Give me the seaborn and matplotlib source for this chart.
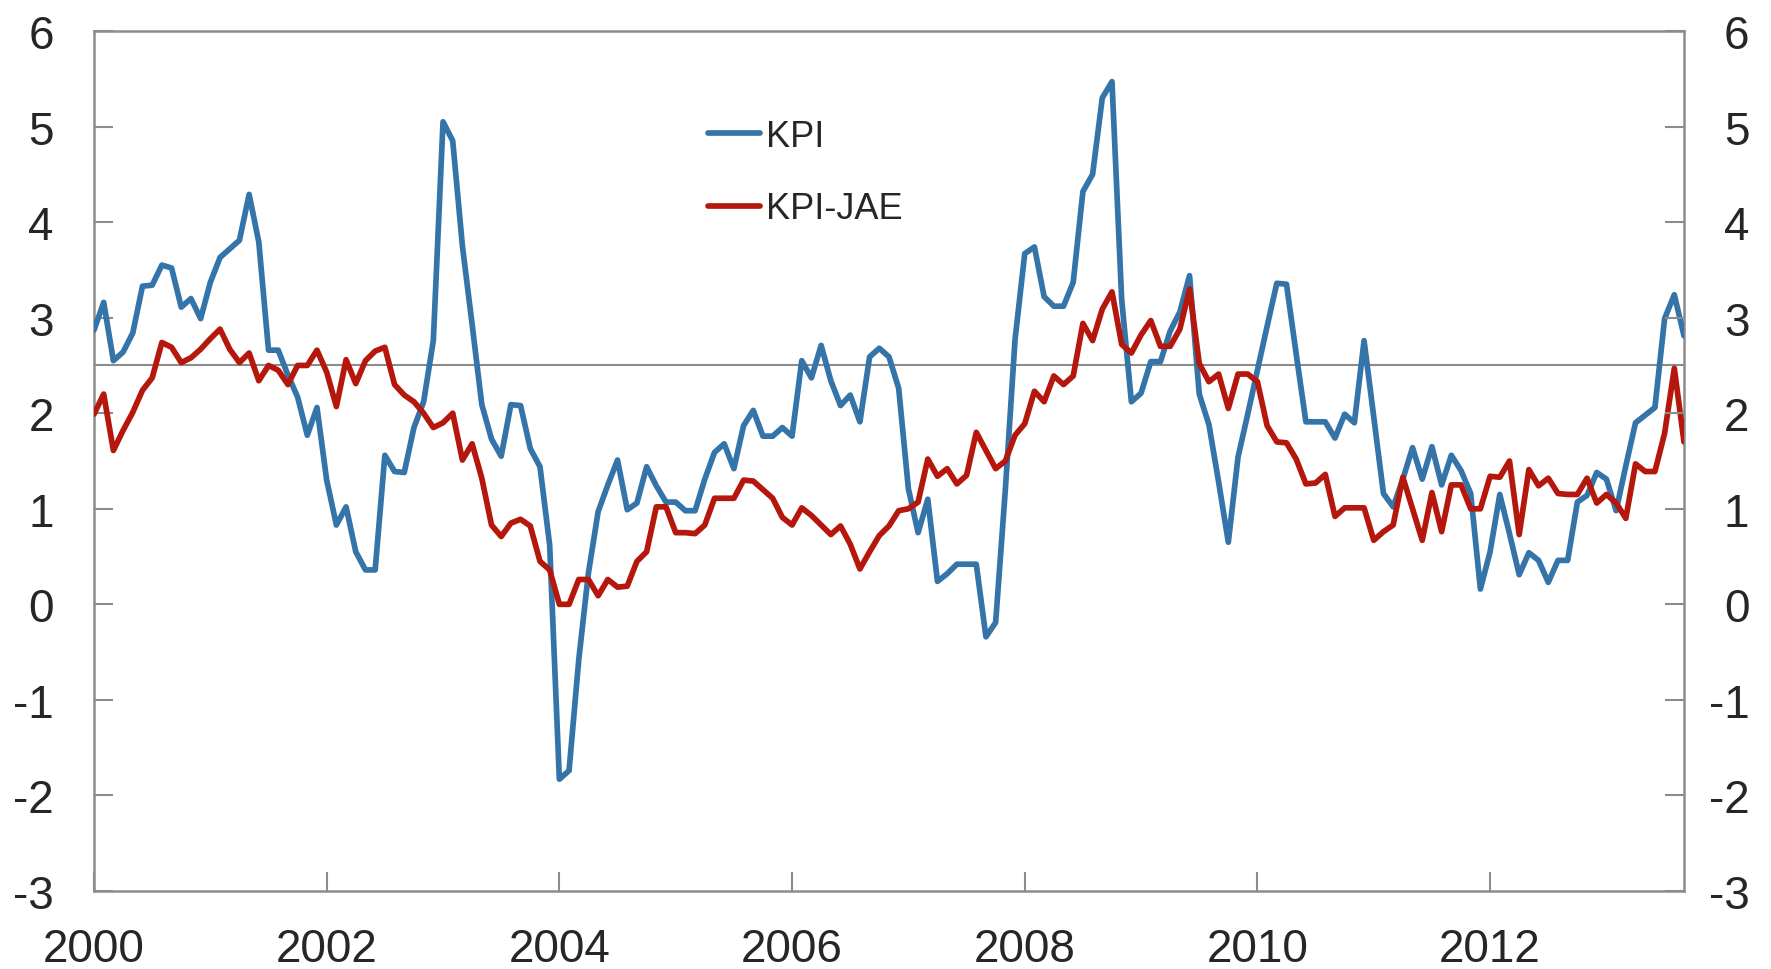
import numpy as np
import pandas as pd
import matplotlib
matplotlib.use("Agg")
import matplotlib.pyplot as plt
import seaborn as sns

# Monthly data, Jan 2000 - Sep 2013
kpi = [2.87, 3.16, 2.55, 2.64, 2.84, 3.33, 3.34, 3.55, 3.52, 3.11, 3.20, 2.99,
       3.37, 3.63, 3.72, 3.81, 4.29, 3.79, 2.66, 2.66, 2.40, 2.17, 1.77, 2.06,
       1.30, 0.83, 1.02, 0.55, 0.36, 0.36, 1.56, 1.39, 1.38, 1.85, 2.12, 2.76,
       5.05, 4.85, 3.75, 2.93, 2.09, 1.73, 1.55, 2.09, 2.08, 1.63, 1.44, 0.62,
       -1.83, -1.74, -0.58, 0.33, 0.97, 1.25, 1.51, 0.99, 1.06, 1.44, 1.24, 1.07,
       1.07, 0.98, 0.98, 1.31, 1.59, 1.68, 1.42, 1.87, 2.03, 1.76, 1.76, 1.85,
       1.76, 2.55, 2.37, 2.71, 2.34, 2.08, 2.19, 1.91, 2.59, 2.68, 2.59, 2.26,
       1.21, 0.75, 1.10, 0.24, 0.32, 0.42, 0.42, 0.42, -0.34, -0.19, 1.20, 2.77,
       3.67, 3.74, 3.22, 3.12, 3.12, 3.37, 4.32, 4.50, 5.30, 5.47, 3.19, 2.12,
       2.21, 2.54, 2.54, 2.86, 3.06, 3.44, 2.20, 1.88, 1.28, 0.65, 1.54, 1.99,
       2.45, 2.91, 3.36, 3.35, 2.62, 1.91, 1.91, 1.91, 1.74, 1.99, 1.90, 2.76,
       1.96, 1.16, 1.02, 1.31, 1.64, 1.31, 1.65, 1.25, 1.56, 1.40, 1.16, 0.16,
       0.55, 1.15, 0.74, 0.31, 0.54, 0.46, 0.23, 0.46, 0.46, 1.07, 1.14, 1.38,
       1.31, 0.98, 1.45, 1.90, 1.98, 2.06, 2.99, 3.24, 2.81]

kpi_jae = [1.99, 2.20, 1.61, 1.82, 2.01, 2.24, 2.37, 2.74, 2.69, 2.53, 2.58, 2.67,
           2.78, 2.88, 2.67, 2.53, 2.63, 2.34, 2.50, 2.45, 2.30, 2.50, 2.50, 2.66,
           2.43, 2.07, 2.56, 2.31, 2.55, 2.65, 2.69, 2.30, 2.19, 2.12, 2.00, 1.85,
           1.90, 2.00, 1.51, 1.68, 1.32, 0.83, 0.71, 0.85, 0.89, 0.82, 0.45, 0.36,
           0.00, 0.00, 0.26, 0.26, 0.09, 0.26, 0.18, 0.19, 0.45, 0.55, 1.02, 1.02,
           0.75, 0.75, 0.74, 0.83, 1.11, 1.11, 1.11, 1.30, 1.29, 1.20, 1.11, 0.91,
           0.83, 1.01, 0.93, 0.83, 0.73, 0.82, 0.63, 0.37, 0.55, 0.72, 0.82, 0.98,
           1.00, 1.07, 1.52, 1.34, 1.42, 1.26, 1.35, 1.80, 1.61, 1.42, 1.50, 1.77,
           1.89, 2.23, 2.12, 2.39, 2.30, 2.39, 2.94, 2.76, 3.09, 3.27, 2.72, 2.63,
           2.82, 2.97, 2.70, 2.70, 2.88, 3.30, 2.52, 2.33, 2.41, 2.05, 2.41, 2.41,
           2.33, 1.87, 1.70, 1.69, 1.52, 1.26, 1.27, 1.36, 0.92, 1.01, 1.01, 1.01,
           0.67, 0.76, 0.83, 1.33, 1.00, 0.67, 1.17, 0.76, 1.25, 1.25, 1.00, 1.00,
           1.34, 1.33, 1.50, 0.73, 1.41, 1.24, 1.32, 1.16, 1.15, 1.15, 1.32, 1.06,
           1.15, 1.06, 0.90, 1.47, 1.39, 1.39, 1.79, 2.47, 1.70]

series_names = ["KPI", "KPI-JAE"]
series_colors = ["#3474A9", "#B5170C"]
target = 2.5
y_ticks = [-3, -2, -1, 0, 1, 2, 3, 4, 5, 6]
x_ticks = [2000, 2002, 2004, 2006, 2008, 2010, 2012]
start_year = 2000

months = np.arange(len(kpi))
t = start_year + months / 12.0
df = pd.DataFrame({
    "t": np.concatenate([t, t]),
    "value": kpi + kpi_jae,
    "series": [series_names[0]] * len(kpi) + [series_names[1]] * len(kpi_jae),
})

sns.set_theme(style="white")
plt.rcParams["font.family"] = ["Liberation Sans", "DejaVu Sans"]

W, H = 1771, 970
fig = plt.figure(figsize=(W / 100, H / 100), dpi=100)
ax = fig.add_axes([94 / W, 1 - 892 / H, (1684 - 94) / W, (892 - 32) / H])

ax.axhline(target, color="#8c8c8c", lw=1.5, zorder=1)
sns.lineplot(data=df, x="t", y="value", hue="series", hue_order=series_names,
             palette=series_colors, linewidth=4.1, ax=ax, legend=True, zorder=3)

ax.set_xlim(t[0], t[-1])
ax.set_ylim(-3, 6)
ax.set_xticks(x_ticks)
ax.set_xticklabels([str(x) for x in x_ticks])
ax.set_yticks(y_ticks)
ax.set_yticklabels([str(v) for v in y_ticks])
ax.set_xlabel("")
ax.set_ylabel("")

for s in ax.spines.values():
    s.set_color("#8c8c8c")
    s.set_linewidth(1.8)

fs = 33
ax.tick_params(axis="y", which="major", direction="in", length=14, width=1.5,
               color="#8c8c8c", labelsize=fs, pad=29, left=True, right=True,
               labelleft=True, labelright=False)
ax.tick_params(axis="x", which="major", direction="in", length=14, width=1.5,
               color="#8c8c8c", labelsize=fs, pad=26, bottom=True)

# right labels
ax2 = ax.twinx()
ax2.set_ylim(ax.get_ylim())
ax2.set_yticks(y_ticks)
ax2.set_yticklabels([str(v) for v in y_ticks])
ax2.tick_params(axis="y", direction="in", length=14, width=1.5, color="#8c8c8c",
                labelsize=fs, pad=47)
for lab in ax2.get_yticklabels():
    lab.set_horizontalalignment("right")
for s in ax2.spines.values():
    s.set_visible(False)
ax2.grid(False)

handles, labels = ax.get_legend_handles_labels()
leg = ax.legend(handles, labels, loc="upper left",
                bbox_to_anchor=(708 / W, 1 - 120 / H), bbox_transform=fig.transFigure,
                frameon=False, fontsize=26, handlelength=1.45, handletextpad=0.15,
                labelspacing=1.03, borderpad=0, borderaxespad=0)
for lh in leg.get_lines():
    lh.set_linewidth(4.1)

fig.savefig("out.png", dpi=100)
